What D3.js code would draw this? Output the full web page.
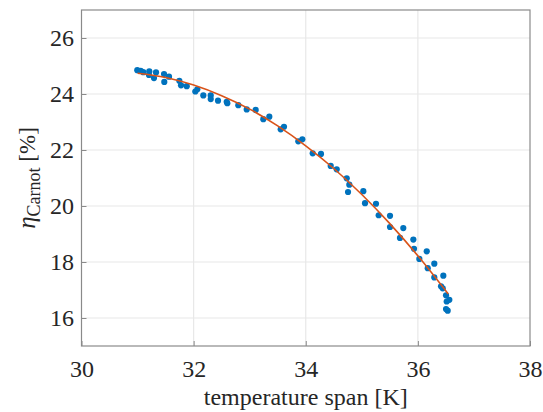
<!DOCTYPE html>
<html>
<head>
<meta charset="utf-8">
<script src="https://cdn.jsdelivr.net/npm/d3@7"></script>
<style>
  body { margin: 0; background: #fff; }
  text { font-family: "Liberation Serif", "Times New Roman", serif; }
</style>
</head>
<body>
<script>
var svgWidth = 543;
var svgHeight = 412;
var margin = {top: 10, right: 13, bottom: 66, left: 81.5};

var width = svgWidth - margin.left - margin.right;
var height = svgHeight - margin.top - margin.bottom;

// measured points (temperature span [K], Carnot efficiency [%])
var spanK = [30.995, 31.056, 31.102, 31.209, 31.204, 31.293, 31.329, 31.472, 31.477, 31.561,
  31.745, 31.775, 31.877, 32.030, 32.066, 32.173, 32.305, 32.305, 32.435, 32.590,
  32.601, 32.797, 32.947, 33.107, 33.243, 33.350, 33.553, 33.612, 33.867, 33.939,
  34.124, 34.272, 34.445, 34.552, 34.731, 34.777, 34.754, 35.027, 35.057, 35.253,
  35.301, 35.503, 35.503, 35.740, 35.681, 35.919, 35.931, 36.158, 36.026, 36.176,
  36.293, 36.293, 36.454, 36.413, 36.443, 36.502, 36.561, 36.514, 36.502, 36.532];
var etaCarnot = [24.85, 24.83, 24.78, 24.81, 24.68, 24.57, 24.77, 24.71, 24.43, 24.62,
  24.47, 24.31, 24.28, 24.09, 24.17, 23.95, 23.95, 23.82, 23.76, 23.72,
  23.67, 23.60, 23.45, 23.43, 23.10, 23.19, 22.74, 22.83, 22.31, 22.38,
  21.88, 21.86, 21.43, 21.31, 20.99, 20.76, 20.50, 20.53, 20.10, 20.08,
  19.67, 19.65, 19.25, 19.21, 18.86, 18.80, 18.47, 18.38, 18.11, 17.78,
  17.94, 17.45, 17.51, 17.13, 17.06, 16.81, 16.65, 16.59, 16.32, 16.26];

// fitted curve
var fitX = [31.0, 31.5, 32.0, 32.5, 33.0, 33.5, 34.0, 34.5, 35.0, 35.5, 36.0, 36.54];
var fitY = [24.74, 24.59, 24.32, 23.94, 23.46, 22.86, 22.15, 21.34, 20.41, 19.37, 18.22, 16.86];

var xTicks = [30, 32, 34, 36, 38];
var yTicks = [16, 18, 20, 22, 24, 26];

var svg = d3.select("body")
  .append("svg")
  .attr("width", svgWidth)
  .attr("height", svgHeight);

var chartGroup = svg.append("g")
  .attr("transform", "translate(" + margin.left + "," + margin.top + ")");

var x = d3.scaleLinear().domain([30, 38]).range([0, width]);
var y = d3.scaleLinear().domain([15, 27]).range([height, 0]);

// grid
chartGroup.append("g")
  .selectAll("line")
  .data(xTicks.slice(1, -1))
  .enter()
  .append("line")
  .attr("x1", d => x(d)).attr("x2", d => x(d))
  .attr("y1", 0).attr("y2", height)
  .attr("stroke", "#e8e8e8").attr("stroke-width", 1.2);

chartGroup.append("g")
  .selectAll("line")
  .data(yTicks)
  .enter()
  .append("line")
  .attr("x1", 0).attr("x2", width)
  .attr("y1", d => y(d)).attr("y2", d => y(d))
  .attr("stroke", "#e8e8e8").attr("stroke-width", 1.2);

// axes (ticks pointing inward, MATLAB style)
var bottomAxis = d3.axisBottom(x).tickValues(xTicks).tickSize(-5).tickPadding(14);
var leftAxis = d3.axisLeft(y).tickValues(yTicks).tickSize(-5).tickPadding(7.5);

function styleAxis(g) {
  g.attr("font-family", "Liberation Serif, Times New Roman, serif")
    .attr("font-size", 24);
  g.select(".domain").remove();
  g.selectAll(".tick line").attr("stroke", "#8a8a8a").attr("stroke-width", 1);
  g.selectAll(".tick text").attr("fill", "#262626");
}

chartGroup.append("g")
  .attr("transform", `translate(0, ${height})`)
  .call(bottomAxis)
  .call(styleAxis);

chartGroup.append("g")
  .call(leftAxis)
  .call(styleAxis);

// box
chartGroup.append("rect")
  .attr("width", width)
  .attr("height", height)
  .attr("fill", "none")
  .attr("stroke", "#8a8a8a")
  .attr("stroke-width", 1.2);

// scatter
var pts = spanK.map((d, i) => ({x: d, y: etaCarnot[i]}));
chartGroup.append("g")
  .selectAll("circle")
  .data(pts)
  .enter()
  .append("circle")
  .attr("cx", d => x(d.x))
  .attr("cy", d => y(d.y))
  .attr("r", 3.1)
  .attr("fill", "#0072BD");

// fit line
var fit = fitX.map((d, i) => [d, fitY[i]]);
var line = d3.line()
  .x(d => x(d[0]))
  .y(d => y(d[1]))
  .curve(d3.curveMonotoneX);

chartGroup.append("path")
  .datum(fit)
  .attr("d", line)
  .attr("fill", "none")
  .attr("stroke", "#D95319")
  .attr("stroke-width", 1.6);

// labels
svg.append("text")
  .attr("x", margin.left + width / 2)
  .attr("y", 405)
  .attr("text-anchor", "middle")
  .attr("fill", "#262626")
  .style("font-size", "24px")
  .text("temperature span [K]");

var yl = svg.append("text")
  .attr("transform", "translate(35," + (margin.top + height / 2) + ") rotate(-90)")
  .attr("text-anchor", "middle")
  .attr("fill", "#262626")
  .style("font-size", "23px");
yl.append("tspan").style("font-style", "italic").style("font-size", "25px").text("η");
yl.append("tspan").attr("dy", 5).style("font-size", "18px").text("Carnot");
yl.append("tspan").attr("dy", -5).text(" [%]");
</script>
</body>
</html>
